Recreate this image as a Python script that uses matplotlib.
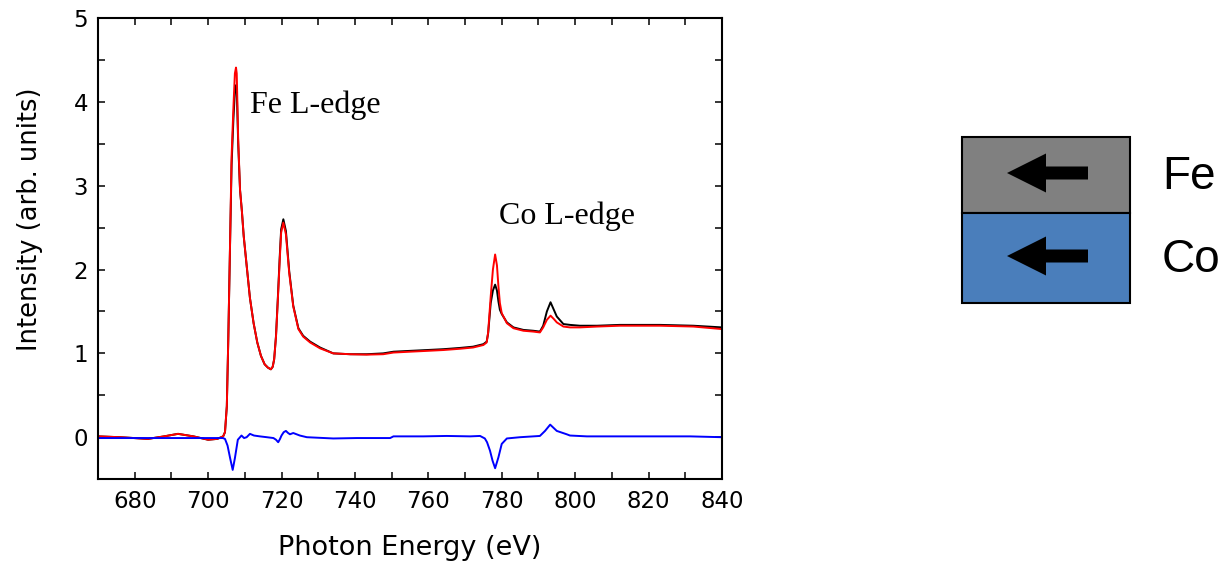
import numpy as np
import matplotlib.pyplot as plt
from matplotlib.patches import Rectangle, Polygon

# ---- spectra ----
energy = [670, 676, 683.6, 688, 691.8, 696, 700, 702.5, 704.1, 704.6, 705.1, 705.5,
          706.0, 706.4, 706.9, 707.3, 707.6, 707.8, 708.2, 708.7, 709.2, 709.7, 710.5,
          711.4, 712.4, 713.4, 714.4, 715.4, 716.3, 717.1, 717.6, 718.0, 718.5, 719.0,
          719.5, 719.9, 720.5, 721.2, 722.1, 723.2, 724.6, 725.9, 727.8, 730.5, 734.1,
          738.7, 743.2, 747.7, 750.5, 755, 759.6, 764.1, 768.6, 772.2, 775.0, 775.9,
          776.3, 777.0, 777.6, 778.2, 778.7, 779.1, 779.5, 780.0, 781.4, 783.2, 785.9,
          788.6, 790.4, 791.3, 792.3, 793.3, 794.2, 795.0, 796.8, 798.6, 801.3, 806,
          812.2, 818, 823.1, 832.2, 840]

red = [0.01, 0.0, -0.02, 0.01, 0.04, 0.01, -0.03, -0.02, 0.01, 0.06, 0.37, 1.17,
       2.36, 3.35, 3.94, 4.34, 4.41, 4.34, 3.55, 2.95, 2.70, 2.40, 2.05,
       1.66, 1.36, 1.13, 0.97, 0.87, 0.83, 0.81, 0.84, 0.93, 1.20, 1.64,
       2.10, 2.44, 2.56, 2.42, 1.96, 1.56, 1.29, 1.20, 1.13, 1.06, 1.00,
       0.99, 0.985, 0.99, 1.01, 1.02, 1.03, 1.04, 1.055, 1.07, 1.10, 1.13,
       1.25, 1.68, 2.00, 2.18, 2.05, 1.80, 1.60, 1.48, 1.36, 1.30, 1.27,
       1.26, 1.25, 1.31, 1.40, 1.45, 1.41, 1.37, 1.32, 1.31, 1.31, 1.32,
       1.33, 1.33, 1.33, 1.32, 1.29]

black = [0.01, 0.0, -0.02, 0.01, 0.04, 0.01, -0.03, -0.02, 0.01, 0.06, 0.37, 1.17,
         2.34, 3.25, 3.80, 4.12, 4.20, 4.15, 3.50, 2.95, 2.70, 2.40, 2.05,
         1.66, 1.36, 1.13, 0.97, 0.87, 0.83, 0.81, 0.84, 0.93, 1.21, 1.66,
         2.14, 2.48, 2.60, 2.46, 1.98, 1.57, 1.30, 1.21, 1.14, 1.07, 1.00,
         0.99, 0.99, 1.00, 1.02, 1.03, 1.04, 1.05, 1.065, 1.08, 1.11, 1.14,
         1.24, 1.60, 1.75, 1.82, 1.75, 1.62, 1.52, 1.47, 1.37, 1.31, 1.28,
         1.27, 1.26, 1.33, 1.50, 1.61, 1.52, 1.44, 1.35, 1.34, 1.33, 1.33,
         1.34, 1.34, 1.34, 1.33, 1.31]

energy_diff = [670, 680, 690, 700, 704.0, 704.6, 705.3, 706.0, 706.7, 707.3, 708.1,
               708.7, 709.1, 709.8, 710.5, 711.4, 712.5, 714.1, 716, 717.8, 718.5,
               719.1, 719.6, 720.0, 720.6, 721.2, 721.8, 722.3, 723.2, 725.0, 726.9,
               734.1, 740.5, 749.6, 750.5, 758.6, 765, 771.4, 774.1, 775.4, 776.0,
               776.8, 777.5, 778.2, 779.1, 780.0, 781.4, 785.0, 790.4, 791.8, 793.2,
               795.0, 797.7, 798.6, 803.2, 816.8, 831.3, 840]
diff = [-0.01, -0.01, -0.01, -0.01, -0.01, -0.02, -0.10, -0.25, -0.39, -0.25, -0.03,
        0.0, 0.02, -0.01, 0.0, 0.04, 0.02, 0.01, 0.0, -0.01, -0.03,
        -0.06, -0.02, 0.02, 0.06, 0.075, 0.05, 0.035, 0.05, 0.02, 0.0,
        -0.015, -0.01, -0.01, 0.01, 0.01, 0.015, 0.01, 0.015, -0.015, -0.06,
        -0.16, -0.28, -0.37, -0.24, -0.08, -0.015, 0.0, 0.015, 0.075, 0.15,
        0.075, 0.035, 0.02, 0.01, 0.01, 0.01, 0.0]

layers = ["Fe", "Co"]
layer_colors = ["#808080", "#4a7ebb"]

plt.rcParams['font.family'] = ['DejaVu Sans']

fig = plt.figure(figsize=(12.28, 5.65), dpi=100)
ax = fig.add_axes([0.0798, 0.152, 0.5081, 0.816])

ax.plot(energy, black, color="black", lw=1.4)
ax.plot(energy, red, color="red", lw=1.4)
ax.plot(energy_diff, diff, color="blue", lw=1.4)

ax.set_xlim(670, 840)
ax.set_ylim(-0.5, 5)
ax.set_xticks(np.arange(680, 841, 20))
ax.set_xticks(np.arange(670, 841, 10), minor=True)
ax.set_yticks(np.arange(0, 6, 1))
ax.set_yticks(np.arange(-0.5, 5.01, 0.5), minor=True)
ax.tick_params(which="both", direction="in", top=True, right=True,
               length=5, width=1.1, labelsize=16.5)
ax.tick_params(axis="x", which="both", pad=8)
ax.tick_params(axis="y", which="both", pad=7)
for s in ax.spines.values():
    s.set_linewidth(1.5)

ax.set_xlabel("Photon Energy (eV)", fontsize=19.5, va="center")
ax.set_ylabel("Intensity (arb. units)", fontsize=18.5, va="center")
ax.xaxis.set_label_coords(0.5, -0.150)
ax.yaxis.set_label_coords(-0.109, 0.564)

ax.text(711.4, 3.96, "Fe L-edge", family="Liberation Serif", fontsize=23, va="center")
ax.text(779.3, 2.64, "Co L-edge", family="Liberation Serif", fontsize=23, va="center")

# ---- layer schematic on the right (figure pixel coords) ----
ov = fig.add_axes([0, 0, 1, 1])
ov.set_xlim(0, 1228)
ov.set_ylim(565, 0)
ov.axis("off")
tops = [137, 213]
heights = [76, 90]
for name, col, top, h in zip(layers, layer_colors, tops, heights):
    ov.add_patch(Rectangle((962, top), 168, h, facecolor=col, edgecolor="black", lw=1.5))
    cy = top + h / 2 - 2
    arrow = [(1007, cy), (1046, cy - 19.5), (1046, cy - 6.5), (1088, cy - 6.5),
             (1088, cy + 6.5), (1046, cy + 6.5), (1046, cy + 19.5)]
    ov.add_patch(Polygon(arrow, closed=True, facecolor="black", edgecolor="none"))
    ov.text(1162, top + h / 2 + 2, name, family="Liberation Sans", fontsize=33,
            va="center", ha="left")

fig.savefig("out.png", dpi=100)
